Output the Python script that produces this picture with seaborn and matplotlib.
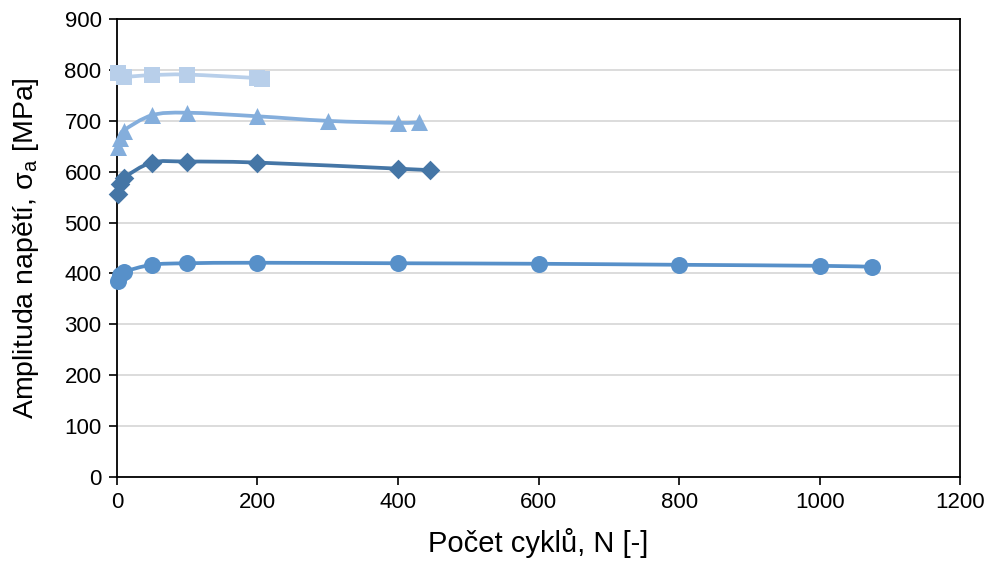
import numpy as np
import pandas as pd
import matplotlib
matplotlib.use('Agg')
import matplotlib.pyplot as plt
from matplotlib.path import Path
from matplotlib.patches import PathPatch
import seaborn as sns

# values
n_circle = [1, 5, 10, 50, 100, 200, 400, 600, 800, 1000, 1075]
s_circle = [386, 396, 403, 417, 420, 421, 420, 419, 417, 415, 413]

n_diamond = [1, 5, 10, 50, 100, 200, 400, 446]
s_diamond = [556, 575, 588, 618, 620, 618, 606, 603]

n_triangle = [1, 5, 10, 50, 100, 200, 300, 400, 430]
s_triangle = [648, 666, 681, 711, 716, 709, 700, 696, 697]

n_square = [1, 10, 50, 100, 200, 207]
s_square = [794, 787, 790, 791, 784, 782]

series = [
    ('circle', n_circle, s_circle, '#5790C9', 'o', 150),
    ('diamond', n_diamond, s_diamond, '#4576A6', 'D', 100),
    ('triangle', n_triangle, s_triangle, '#84AEDC', '^', 150),
    ('square', n_square, s_square, '#B8CFEA', 's', 120),
]

sns.set_theme(style='white')
plt.rcParams['font.family'] = ['Liberation Sans', 'DejaVu Sans']
plt.rcParams['mathtext.fontset'] = 'custom'
plt.rcParams['mathtext.rm'] = 'Liberation Sans'
plt.rcParams['mathtext.it'] = 'Liberation Sans'


def smooth_path(x, y):
    # Excel-like smoothed line: Catmull-Rom segments as cubic Bezier curves
    p = np.column_stack([x, y]).astype(float)
    ext = np.vstack([p[0], p, p[-1]])
    verts = [p[0]]
    codes = [Path.MOVETO]
    for i in range(1, len(ext) - 2):
        c1 = ext[i] + (ext[i + 1] - ext[i - 1]) / 6
        c2 = ext[i + 1] - (ext[i + 2] - ext[i]) / 6
        verts += [c1, c2, ext[i + 1]]
        codes += [Path.CURVE4] * 3
    return Path(verts, codes)


fig = plt.figure(figsize=(9.9, 5.63), dpi=100)
ax = fig.add_axes([0.118, 0.153, 0.852, 0.813])

for name, n, s, color, marker, size in series:
    patch = PathPatch(smooth_path(n, s), facecolor='none', edgecolor=color,
                      lw=2.7, zorder=3, capstyle='round')
    ax.add_patch(patch)
    df = pd.DataFrame({'N': n, 'sigma': s})
    sns.scatterplot(data=df, x='N', y='sigma', color=color, marker=marker,
                    s=size, linewidth=0, ax=ax, zorder=4, clip_on=False)

ax.set_xlim(0, 1200)
ax.set_ylim(0, 900)
ax.set_xticks(range(0, 1201, 200))
ax.set_yticks(range(0, 901, 100))
ax.yaxis.grid(True, color='#D9D9D9', lw=1.3)
ax.set_axisbelow(True)
for side in ['top', 'right', 'left', 'bottom']:
    ax.spines[side].set_visible(True)
    ax.spines[side].set_color('black')
    ax.spines[side].set_linewidth(1.3)
ax.tick_params(axis='both', labelsize=16, colors='black', length=6,
               width=1.2, direction='out', left=True, bottom=True, pad=5)
ax.set_xlabel('Počet cyklů, N [-]', fontsize=21, color='black', labelpad=11)
ax.set_ylabel('Amplituda napětí, σ$_\\mathrm{a}$ [MPa]', fontsize=20.5,
              color='black', labelpad=17)

fig.savefig('out.png', dpi=100)
